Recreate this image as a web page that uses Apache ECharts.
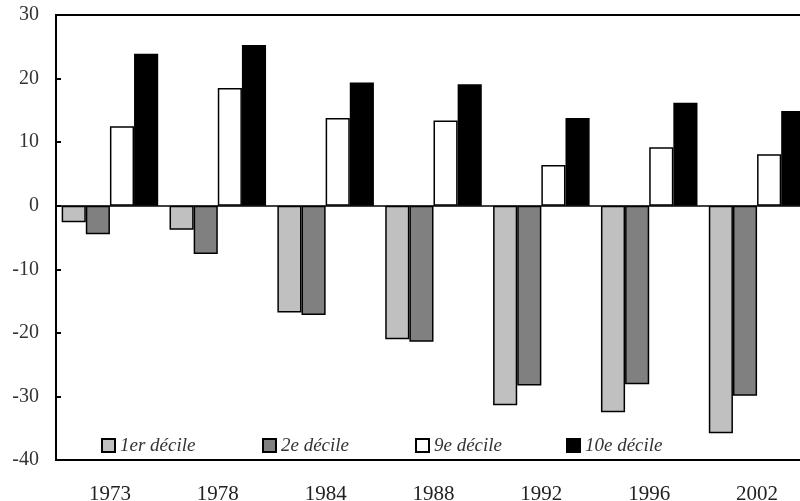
<!DOCTYPE html>
<html>
<head>
<meta charset="utf-8">
<script src="https://cdn.jsdelivr.net/npm/echarts@6/dist/echarts.min.js"></script>
<style>html,body{margin:0;padding:0;background:#fff;}#c{width:800px;height:501px;}</style>
</head>
<body>
<div id="c"></div>
<script>
const years = ['1973', '1978', '1984', '1988', '1992', '1996', '2002'];
const seriesNames = ['1er décile', '2e décile', '9e décile', '10e décile'];
const d1 = [-2.6, -3.8, -16.8, -21.0, -31.4, -32.5, -35.8];
const d2 = [-4.5, -7.6, -17.2, -21.4, -28.3, -28.1, -29.9];
const d9 = [12.5, 18.5, 13.8, 13.4, 6.4, 9.2, 8.1];
const d10 = [23.9, 25.3, 19.4, 19.1, 13.8, 16.2, 14.9];
const colors = ['#c0c0c0', '#808080', '#ffffff', '#000000'];
const values = [d1, d2, d9, d10];
const legendLefts = [96, 257, 410, 561];

const chart = echarts.init(document.getElementById('c'), null, {renderer: 'canvas'});
const textFont = 'Liberation Serif, Times New Roman, serif';

const series = seriesNames.map((n, i) => {
  const s = {
    name: n,
    type: 'bar',
    data: values[i],
    barGap: '0%',
    barCategoryGap: '10.5%',
    itemStyle: { color: colors[i], borderColor: '#000', borderWidth: 1.5 },
    emphasis: { disabled: true },
    animation: false
  };
  if (i === 0) {
    s.markLine = {
      silent: true,
      symbol: ['none', 'none'],
      label: { show: false },
      lineStyle: { color: '#000', type: 'solid', width: 1.5 },
      data: [{ yAxis: 0 }],
      animation: false
    };
  }
  return s;
});

const legends = seriesNames.map((n, i) => ({
  data: [n],
  left: legendLefts[i],
  top: 431,
  orient: 'horizontal',
  icon: 'rect',
  itemWidth: 13,
  itemHeight: 13,
  itemGap: 0,
  selectedMode: false,
  textStyle: { fontFamily: textFont, fontStyle: 'italic', fontSize: 19, color: '#333' }
}));

chart.setOption({
  backgroundColor: '#fff',
  animation: false,
  legend: legends,
  grid: {
    left: 56, top: 15, width: 755, height: 445,
    outerBoundsMode: 'none',
    containLabel: false,
    show: true, borderColor: '#000', borderWidth: 2, backgroundColor: '#fff'
  },
  xAxis: {
    type: 'category',
    data: years,
    axisTick: { show: false },
    axisLine: { show: false, onZero: false },
    axisLabel: { fontFamily: textFont, fontSize: 21, color: '#222', margin: 24 }
  },
  yAxis: {
    type: 'value',
    min: -40, max: 30, interval: 10,
    axisLine: { show: true, lineStyle: { color: '#000', width: 2 } },
    axisTick: { show: true, inside: true, length: 5, lineStyle: { color: '#000', width: 2 } },
    splitLine: { show: false },
    axisLabel: { fontFamily: textFont, fontSize: 20, color: '#333', margin: 17 }
  },
  series: series
});
</script>
</body>
</html>
